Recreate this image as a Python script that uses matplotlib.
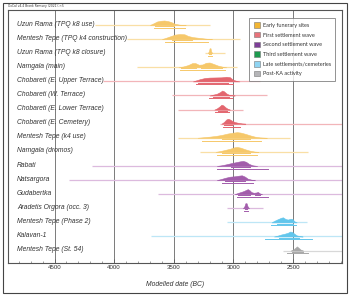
import matplotlib
matplotlib.use("Agg")
import matplotlib.pyplot as plt
from matplotlib.patches import Patch, Rectangle
from matplotlib.ticker import MultipleLocator

# --- Datos (fechas en años BC) ---
SITES = [
    "Uzun Rama (TPQ k8 use)",
    "Mentesh Tepe (TPQ k4 construction)",
    "Uzun Rama (TPQ k8 closure)",
    "Namgala (main)",
    "Chobareti (E. Upper Terrace)",
    "Chobareti (W. Terrace)",
    "Chobareti (E. Lower Terrace)",
    "Chobareti (E. Cemetery)",
    "Mentesh Tepe (k4 use)",
    "Namgala (dromos)",
    "Rabati",
    "Natsargora",
    "Gudabertka",
    "Aradetis Orgora (occ. 3)",
    "Mentesh Tepe (Phase 2)",
    "Kalavan-1",
    "Mentesh Tepe (St. 54)",
]

# índice de grupo (ver GROUP_NAMES) para cada fila
SITE_GROUP = [0, 0, 0, 0, 1, 1, 1, 1, 0, 0, 2, 2, 2, 2, 4, 4, 5]

GROUP_NAMES = [
    "Early funerary sites",
    "First settlement wave",
    "Second settlement wave",
    "Third settlement wave",
    "Late settlements/cemeteries",
    "Post-KA activity",
]

# rango de la línea tenue (distribución sin modelar)
PRIOR_START = [4160, 3890, 3238, 3807, 4090, 3513, 3464, 3110, 3464, 3280,
               4184, 4376, 3631, 3054, 3054, 3690, 2585]
PRIOR_END = [3196, 2945, 3070, 2970, 2777, 2720, 2920, 2000, 2526, 2375,
             2000, 2000, 2000, 2753, 2387, 2000, 2000]

# contorno de la distribución posterior: años y alturas relativas
PDF_YEARS = [
    [3700, 3670, 3640, 3610, 3580, 3550, 3520, 3490, 3450, 3400],
    [3600, 3570, 3530, 3490, 3450, 3410, 3380, 3340, 3300, 3260, 3220, 3180],
    [3215, 3205, 3200, 3192, 3188, 3178],
    [3460, 3420, 3380, 3345, 3320, 3290, 3260, 3230, 3200, 3170, 3130, 3090, 3060],
    [3340, 3310, 3280, 3240, 3200, 3150, 3100, 3060, 3030, 3005, 2980, 2950],
    [3200, 3170, 3140, 3110, 3095, 3080, 3060, 3040, 3010, 2990],
    [3160, 3140, 3120, 3100, 3085, 3065, 3045, 3030],
    [3100, 3080, 3060, 3045, 3030, 3010, 2990, 2960, 2930, 2900],
    [3300, 3250, 3200, 3150, 3100, 3050, 3000, 2970, 2940, 2900, 2860, 2820, 2780, 2720],
    [3150, 3110, 3070, 3030, 2990, 2970, 2940, 2900, 2860, 2820, 2790],
    [3140, 3100, 3060, 3020, 2980, 2945, 2920, 2895, 2870, 2840, 2800],
    [3140, 3110, 3070, 3030, 2990, 2950, 2930, 2905, 2880, 2850, 2820],
    [2990, 2965, 2940, 2915, 2895, 2880, 2865, 2850, 2830, 2810, 2795, 2780, 2760],
    [2920, 2908, 2900, 2890, 2882, 2870],
    [2680, 2660, 2630, 2600, 2585, 2565, 2545, 2520, 2505, 2490, 2470],
    [2660, 2630, 2600, 2570, 2545, 2525, 2510, 2490, 2470, 2440, 2420],
    [2520, 2500, 2480, 2468, 2455, 2435, 2415],
]
PDF_HEIGHTS = [
    [0, 0.12, 0.25, 0.30, 0.32, 0.28, 0.20, 0.08, 0.02, 0],
    [0, 0.08, 0.20, 0.32, 0.36, 0.34, 0.22, 0.14, 0.10, 0.06, 0.02, 0],
    [0, 0.15, 0.35, 0.35, 0.15, 0],
    [0, 0.06, 0.16, 0.30, 0.30, 0.18, 0.20, 0.32, 0.34, 0.25, 0.12, 0.04, 0],
    [0, 0.08, 0.16, 0.24, 0.27, 0.28, 0.29, 0.33, 0.30, 0.12, 0.05, 0],
    [0, 0.06, 0.12, 0.25, 0.35, 0.30, 0.15, 0.06, 0.02, 0],
    [0, 0.08, 0.20, 0.35, 0.30, 0.15, 0.04, 0],
    [0, 0.12, 0.30, 0.35, 0.30, 0.20, 0.12, 0.06, 0.02, 0],
    [0, 0.04, 0.08, 0.13, 0.20, 0.30, 0.37, 0.40, 0.37, 0.28, 0.17, 0.08, 0.03, 0],
    [0, 0.06, 0.14, 0.22, 0.33, 0.35, 0.30, 0.18, 0.08, 0.02, 0],
    [0, 0.05, 0.12, 0.20, 0.27, 0.33, 0.36, 0.30, 0.15, 0.05, 0],
    [0, 0.06, 0.16, 0.24, 0.27, 0.32, 0.34, 0.25, 0.10, 0.03, 0],
    [0, 0.08, 0.15, 0.22, 0.30, 0.36, 0.28, 0.15, 0.10, 0.12, 0.16, 0.06, 0],
    [0, 0.15, 0.36, 0.36, 0.15, 0],
    [0, 0.10, 0.22, 0.33, 0.36, 0.25, 0.20, 0.26, 0.24, 0.08, 0],
    [0, 0.06, 0.14, 0.20, 0.26, 0.35, 0.33, 0.20, 0.08, 0.02, 0],
    [0, 0.08, 0.20, 0.30, 0.20, 0.06, 0],
]

# rangos de probabilidad (68.3% y 95.4%)
RANGE_68 = [
    [(3660, 3500)], [(3515, 3347)], [(3205, 3188)], [(3440, 3310), (3270, 3100)],
    [(3300, 3045)], [(3170, 3040)], [(3129, 3054)], [(3080, 3010)],
    [(3100, 2860)], [(3097, 2861)], [(3020, 2861)], [(3070, 2903)],
    [(2962, 2861), (2819, 2777)], [(2905, 2885)], [(2635, 2501)], [(2618, 2450)],
    [(2510, 2417)],
]
RANGE_95 = [
    (3665, 3405), (3573, 3213), (3210, 3182), (3447, 3070),
    (3310, 3000), (3205, 3010), (3154, 3037), (3090, 2945),
    (3265, 2765), (3137, 2803), (3137, 2711), (3097, 2836),
    (2970, 2711), (2912, 2878), (2685, 2476), (2736, 2341),
    (2551, 2375),
]

# --- Estilo ---
SWATCH_COLORS = ["#f2b532", "#e8737b", "#7e3f98", "#1e9b4f", "#8fd4f2", "#b5b5b8"]
FILL_COLORS = ["#f6c86a", "#e3656e", "#a25cab", "#1e9b4f", "#62c6ec", "#a8a8a8"]
FAINT_COLORS = ["#f9dfa5", "#f2b5b9", "#dcbade", "#a5d8b8", "#bde6f6", "#d8d8d8"]
TEXT_COLOR = "#333333"


def make_plot():
    fig = plt.figure(figsize=(3.5, 2.96), dpi=100)
    ax = fig.add_axes([8 / 350, 33 / 296, 334 / 350, 253 / 296])

    for i, site in enumerate(SITES):
        g = SITE_GROUP[i]
        # línea tenue
        ax.plot([PRIOR_START[i], PRIOR_END[i]], [i, i], color=FAINT_COLORS[g],
                lw=0.9, solid_capstyle="butt", zorder=1)
        # distribución posterior
        top = [i - h for h in PDF_HEIGHTS[i]]
        ax.fill_between(PDF_YEARS[i], i, top, color=FILL_COLORS[g], lw=0.4,
                        edgecolor=FILL_COLORS[g], zorder=3)
        # rangos
        for a, b in RANGE_68[i]:
            ax.plot([a, b], [i + 0.08, i + 0.08], color=FILL_COLORS[g], lw=0.7, zorder=3)
        a, b = RANGE_95[i]
        ax.plot([a, b], [i + 0.2, i + 0.2], color=FILL_COLORS[g], lw=0.7, zorder=3)
        # etiqueta
        ax.text(4815, i - 0.07, site, fontsize=4.85, style="italic",
                family="Liberation Sans", color=TEXT_COLOR, ha="left", va="center",
                zorder=2)

    ax.set_xlim(4890, 2090)
    ax.set_ylim(16.88, -1.064)
    ax.set_yticks([])

    ax.xaxis.set_major_locator(MultipleLocator(500))
    ax.xaxis.set_minor_locator(MultipleLocator(100))
    ax.tick_params(axis="x", which="major", direction="in", length=3, width=0.5,
                   pad=1.5, labelsize=4.4, colors="#555555", labelcolor=TEXT_COLOR)
    ax.tick_params(axis="x", which="minor", direction="in", length=1.6, width=0.4,
                   colors="#555555")
    for lbl in ax.get_xticklabels():
        lbl.set_family("Liberation Sans")
    ax.grid(axis="x", which="major", color="#7a7a7a", lw=0.7, zorder=0)
    ax.set_axisbelow(True)
    for s in ax.spines.values():
        s.set_color("#555555")
        s.set_linewidth(0.8)

    ax.set_xlabel("Modelled date (BC)", fontsize=4.85, style="italic",
                  family="Liberation Sans", color=TEXT_COLOR, labelpad=8)

    handles = [Patch(facecolor=c, edgecolor="#777777", lw=0.4) for c in SWATCH_COLORS]
    leg = ax.legend(handles, GROUP_NAMES, loc="upper right",
                    bbox_to_anchor=(0.988, 0.980), prop={"family": "Lato", "size": 4},
                    frameon=True, fancybox=False, handlelength=1.1, handleheight=1.1,
                    handletextpad=0.5, labelspacing=0.75, borderpad=0.8)
    leg.get_frame().set_edgecolor("#777777")
    leg.get_frame().set_linewidth(0.7)
    for t in leg.get_texts():
        t.set_color(TEXT_COLOR)

    fig.text(8 / 350, 1 - 6.5 / 296, "OxCal v4.4 Bronk Ramsey (2021); r:5",
             fontsize=2.2, color=TEXT_COLOR, va="center", ha="left")
    fig.patches.append(Rectangle((3 / 350, 3 / 296), 344 / 350, 290 / 296,
                                 transform=fig.transFigure, fill=False,
                                 edgecolor="#444444", lw=0.8))

    fig.savefig("out.png", dpi=100)
    plt.close(fig)


if __name__ == "__main__":
    make_plot()
